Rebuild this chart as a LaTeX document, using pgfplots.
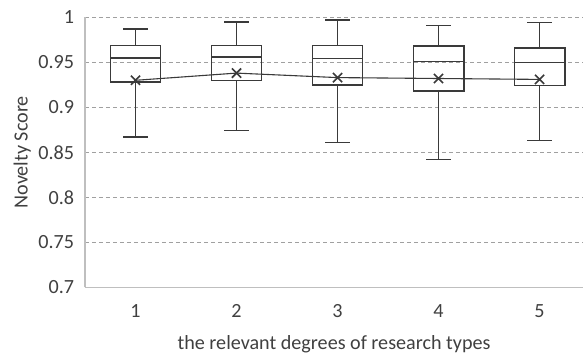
\documentclass[border=0pt]{standalone}
\usepackage{pgfplots}
\pgfplotsset{compat=1.18}
\usepgfplotslibrary{statistics}
\usepackage{fontspec}
\setmainfont{Carlito}
\definecolor{boxc}{HTML}{3A3A3A}
\definecolor{gridc}{HTML}{A0A0A0}
\definecolor{axc}{HTML}{BFBFBF}
\definecolor{txtc}{HTML}{404040}
\begin{document}
\fontsize{20.2}{24}\selectfont
\begin{tikzpicture}
\begin{axis}[name=ax, scale only axis, width=498bp, height=270bp,
  xmin=0.5, xmax=5.43, ymin=0.7, ymax=1,
  xtick={1,2,3,4,5}, xticklabels={1,2,3,4,5},
  ytick={0.7,0.75,0.8,0.85,0.9,0.95,1},
  yticklabels={0.7,0.75,0.8,0.85,0.9,0.95,1},
  axis x line*=bottom, axis y line*=left,
  axis line style={axc, line width=1.5bp, -},
  major tick length=0pt,
  ymajorgrids, major grid style={gridc, dash pattern=on 4bp off 3bp, line width=1.2bp},
  tick label style={text=txtc, font=\fontsize{20.2}{24}\selectfont},
  yticklabel style={xshift=-4bp},
  xticklabel style={yshift=-10bp},
  label style={text=txtc, font=\fontsize{20.2}{24}\selectfont},
  xlabel={the relevant degrees of research types},
  ylabel={Novelty Score},
  xlabel style={yshift=-5bp},
  ylabel style={yshift=-6bp},
  boxplot/draw direction=y,
  clip=false,
]
\addplot[boxplot prepared={lower whisker=0.867, lower quartile=0.928, median=0.955, upper quartile=0.969, upper whisker=0.987, draw position=1, box extend=0.5, whisker extend=0.24}, draw=boxc, line width=1.4bp, solid] coordinates {};
\addplot[boxplot prepared={lower whisker=0.874, lower quartile=0.930, median=0.956, upper quartile=0.969, upper whisker=0.995, draw position=2, box extend=0.5, whisker extend=0.24}, draw=boxc, line width=1.4bp, solid] coordinates {};
\addplot[boxplot prepared={lower whisker=0.861, lower quartile=0.925, median=0.954, upper quartile=0.969, upper whisker=0.997, draw position=3, box extend=0.5, whisker extend=0.24}, draw=boxc, line width=1.4bp, solid] coordinates {};
\addplot[boxplot prepared={lower whisker=0.842, lower quartile=0.918, median=0.951, upper quartile=0.968, upper whisker=0.991, draw position=4, box extend=0.5, whisker extend=0.24}, draw=boxc, line width=1.4bp, solid] coordinates {};
\addplot[boxplot prepared={lower whisker=0.863, lower quartile=0.924, median=0.950, upper quartile=0.966, upper whisker=0.994, draw position=5, box extend=0.5, whisker extend=0.24}, draw=boxc, line width=1.4bp, solid] coordinates {};
\addplot[boxc, line width=1.1bp, mark=x, mark size=6.5bp, mark options={line width=1.6bp, solid}] coordinates {(1,0.930) (2,0.938) (3,0.933) (4,0.932) (5,0.931)};
\end{axis}
\pgfresetboundingbox
\path[use as bounding box] (ax.south west) ++(-85bp,-70.7bp) rectangle ++(586bp,358bp);
\end{tikzpicture}
\end{document}
